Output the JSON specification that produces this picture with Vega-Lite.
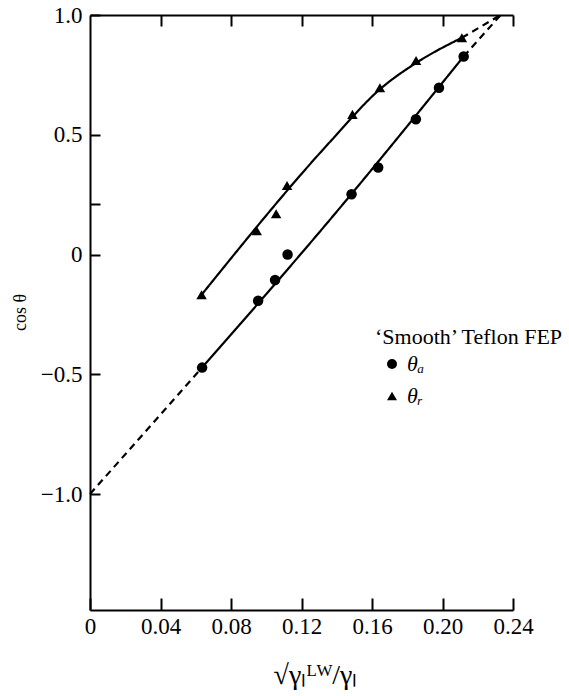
{
  "$schema": "https://vega.github.io/schema/vega-lite/v6.json",
  "width": 423,
  "height": 595,
  "autosize": "none",
  "padding": {"left": 90, "top": 15, "right": 56, "bottom": 86},
  "background": "white",
  "config": {
    "view": {"stroke": null},
    "font": "'Liberation Serif', 'Times New Roman', serif",
    "axis": {
      "grid": false,
      "domainColor": "black",
      "domainWidth": 2,
      "tickColor": "black",
      "tickWidth": 2,
      "labelColor": "black",
      "labelFont": "'Liberation Serif', 'Times New Roman', serif",
      "labelFontSize": 23,
      "labelFlush": false,
      "labelOverlap": false,
      "titleColor": "black",
      "titleFont": "'Liberation Serif', 'Times New Roman', serif",
      "titleFontWeight": "normal"
    },
    "legend": {
      "labelFont": "'Liberation Serif', 'Times New Roman', serif",
      "titleFont": "'Liberation Serif', 'Times New Roman', serif"
    }
  },
  "datasets": {
    "curves": [
      {"curve": "adv_lo", "style": "dashed", "i": 0, "x": 0.0, "y": -1.0},
      {"curve": "adv_lo", "style": "dashed", "i": 1, "x": 0.0636, "y": -0.472},
      {"curve": "adv", "style": "solid", "i": 0, "x": 0.0636, "y": -0.472},
      {"curve": "adv", "style": "solid", "i": 1, "x": 0.1401, "y": 0.18},
      {"curve": "adv", "style": "solid", "i": 2, "x": 0.212, "y": 0.827},
      {"curve": "adv_hi", "style": "dashed", "i": 0, "x": 0.212, "y": 0.827},
      {"curve": "adv_hi", "style": "dashed", "i": 1, "x": 0.233, "y": 1.0},
      {"curve": "rec", "style": "solid", "i": 0, "x": 0.0633, "y": -0.168},
      {"curve": "rec", "style": "solid", "i": 1, "x": 0.137, "y": 0.477},
      {"curve": "rec", "style": "solid", "i": 2, "x": 0.1645, "y": 0.69},
      {"curve": "rec", "style": "solid", "i": 3, "x": 0.1855, "y": 0.802},
      {"curve": "rec", "style": "solid", "i": 4, "x": 0.211, "y": 0.905},
      {"curve": "rec_hi", "style": "dashed", "i": 0, "x": 0.211, "y": 0.905},
      {"curve": "rec_hi", "style": "dashed", "i": 1, "x": 0.233, "y": 1.0}
    ],
    "points": [
      {"angle": "θₐ", "x": 0.0636, "y": -0.472},
      {"angle": "θₐ", "x": 0.0954, "y": -0.193},
      {"angle": "θₐ", "x": 0.105, "y": -0.106},
      {"angle": "θₐ", "x": 0.1121, "y": 0.0},
      {"angle": "θₐ", "x": 0.1484, "y": 0.252},
      {"angle": "θₐ", "x": 0.1635, "y": 0.363},
      {"angle": "θₐ", "x": 0.1849, "y": 0.565},
      {"angle": "θₐ", "x": 0.198, "y": 0.696},
      {"angle": "θₐ", "x": 0.212, "y": 0.827},
      {"angle": "θᵣ", "x": 0.0633, "y": -0.168},
      {"angle": "θᵣ", "x": 0.0946, "y": 0.099},
      {"angle": "θᵣ", "x": 0.1056, "y": 0.17},
      {"angle": "θᵣ", "x": 0.1118, "y": 0.288},
      {"angle": "θᵣ", "x": 0.1489, "y": 0.585},
      {"angle": "θᵣ", "x": 0.1645, "y": 0.696},
      {"angle": "θᵣ", "x": 0.185, "y": 0.81},
      {"angle": "θᵣ", "x": 0.211, "y": 0.905}
    ]
  },
  "layer": [
    {
      "data": {"name": "curves"},
      "mark": {"type": "line", "color": "black", "strokeWidth": 2.2, "interpolate": "monotone"},
      "encoding": {
        "x": {
          "field": "x", "type": "quantitative",
          "scale": {"domain": [0, 0.24], "nice": false, "zero": false},
          "axis": {
            "orient": "bottom",
            "values": [0, 0.04, 0.08, 0.12, 0.16, 0.2, 0.24],
            "labelExpr": "datum.value == 0 ? '0' : format(datum.value, '.2f')",
            "tickSize": -12,
            "labelPadding": 17,
            "title": "√γₗᴸᵂ/γₗ",
            "titleFontSize": 28,
            "titleX": 225,
            "titleY": 65,
            "titleBaseline": "middle",
            "titleAlign": "center"
          }
        },
        "y": {
          "field": "y", "type": "quantitative",
          "scale": {"domain": [-1.484, 1.0], "nice": false, "zero": false},
          "axis": {
            "values": [-1, -0.5, 0, 0.21, 0.5, 1],
            "labelExpr": "datum.value == 0.21 ? '' : datum.value == 0 ? '0' : (datum.value < 0 ? '−' : '') + format(abs(datum.value), '.1f')",
            "tickSize": -10,
            "labelPadding": 18,
            "title": "cos θ",
            "titleFontSize": 18,
            "titleAngle": 270,
            "titleX": -70,
            "titleY": 297,
            "titleAlign": "center",
            "titleBaseline": "middle"
          }
        },
        "detail": {"field": "curve", "type": "nominal"},
        "order": {"field": "i", "type": "quantitative"},
        "strokeDash": {
          "field": "style", "type": "nominal",
          "scale": {"domain": ["solid", "dashed"], "range": [[1, 0], [7, 5]]},
          "legend": null
        }
      }
    },
    {
      "data": {"name": "points"},
      "mark": {"type": "point", "filled": true, "color": "black", "opacity": 1, "size": 110},
      "encoding": {
        "x": {
          "field": "x", "type": "quantitative",
          "axis": {
            "orient": "top",
            "values": [0.04, 0.08, 0.12, 0.16, 0.2, 0.24],
            "labels": false,
            "tickSize": -11,
            "title": null
          }
        },
        "y": {"field": "y", "type": "quantitative"},
        "shape": {
          "field": "angle", "type": "nominal",
          "scale": {"domain": ["θₐ", "θᵣ"], "range": ["circle", "triangle-up"]},
          "legend": {
            "orient": "none",
            "legendX": 285,
            "legendY": 312,
            "title": "‘Smooth’ Teflon FEP",
            "titleFontSize": 22,
            "titleFontWeight": "normal",
            "titleColor": "black",
            "titleLimit": 400,
            "titlePadding": 4,
            "labelFontSize": 22,
            "labelFontStyle": "italic",
            "labelColor": "black",
            "symbolFillColor": "black",
            "symbolStrokeColor": "black",
            "symbolSize": 100,
            "symbolOffset": 6,
            "rowPadding": 10,
            "padding": 0
          }
        }
      }
    }
  ],
  "resolve": {"axis": {"x": "independent"}}
}
